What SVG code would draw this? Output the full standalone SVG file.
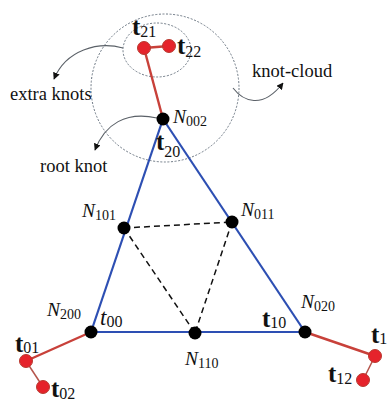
<svg xmlns="http://www.w3.org/2000/svg" width="389" height="402" viewBox="0 0 389 402">
<defs>
<style>
.lbl{font-family:"Liberation Serif","Times New Roman",serif;font-size:18.5px;fill:#111}
.tb{font-family:"Liberation Serif","Times New Roman",serif;font-weight:bold;font-size:25px;fill:#111}
.ti{font-family:"Liberation Serif","Times New Roman",serif;font-style:italic;font-size:23px;fill:#111}
.ni{font-family:"Liberation Serif","Times New Roman",serif;font-style:italic;font-size:19.5px;fill:#111}
.sub{font-family:"Liberation Serif","Times New Roman",serif;font-weight:normal;font-style:normal;font-size:16px}
.nsub{font-family:"Liberation Serif","Times New Roman",serif;font-style:normal;font-size:14px}
.blue{stroke:#2d4fb3;stroke-width:2.2;fill:none}
.red{stroke:#c8413a;stroke-width:2.4;fill:none}
.redthin{stroke:#b5554c;stroke-width:1.5;fill:none}
.dash{stroke:#111;stroke-width:1.5;stroke-dasharray:6,4;fill:none}
.cloud{stroke:#6d7884;stroke-width:1;stroke-dasharray:2,1.6;fill:none}
.arr{stroke:#5b6168;stroke-width:1.1;fill:none;marker-end:url(#ah)}
.bk{fill:#000}
.rd{fill:#e5232b;stroke:#b83a30;stroke-width:1}
</style>
<marker id="ah" viewBox="0 0 10 10" refX="9" refY="5" markerWidth="7" markerHeight="7" orient="auto" markerUnits="userSpaceOnUse">
<path d="M0,0 L10,5 L0,10 z" fill="#111"/>
</marker>
</defs>
<rect width="389" height="402" fill="#fff"/>

<g id="clouds">
<circle class="cloud" cx="165" cy="88" r="74"/>
<ellipse class="cloud" cx="157" cy="50" rx="34" ry="27"/>
</g>

<g id="connectors">
<line class="blue" x1="91" y1="332" x2="163" y2="119"/>
<line class="blue" x1="163" y1="119" x2="305" y2="332"/>
<line class="blue" x1="91" y1="332" x2="305" y2="332"/>
<line class="dash" x1="124" y1="228" x2="232" y2="222"/>
<line class="dash" x1="124" y1="228" x2="195" y2="333"/>
<line class="dash" x1="232" y1="222" x2="195" y2="333"/>
<line class="red" x1="163" y1="119" x2="144" y2="48"/>
<line class="red" x1="144" y1="48" x2="169" y2="46"/>
<line class="red" x1="91" y1="332" x2="26" y2="361"/>
<line class="redthin" x1="26" y1="361" x2="43" y2="387"/>
<line class="red" x1="305" y1="332" x2="375" y2="356"/>
<line class="redthin" x1="375" y1="356" x2="363" y2="380"/>
<path class="arr" d="M123,48 C98,41 66,50 54,79"/>
<path class="arr" d="M157,118 C126,111 105,124 95,150"/>
<path class="arr" d="M233,88 C243,101 262,110 283,83"/>
</g>

<g id="N002"><circle class="bk" cx="163" cy="119" r="6.5"/>
<text class="ni" x="173" y="123">N<tspan class="nsub" dy="3">002</tspan></text>
<text class="tb" x="156" y="150">t<tspan class="sub" dy="7">20</tspan></text></g>
<g id="N101"><circle class="bk" cx="124" cy="228" r="6.5"/>
<text class="ni" x="82" y="217">N<tspan class="nsub" dy="3">101</tspan></text></g>
<g id="N011"><circle class="bk" cx="232" cy="222" r="6.5"/>
<text class="ni" x="241" y="216">N<tspan class="nsub" dy="3">011</tspan></text></g>
<g id="N200"><circle class="bk" cx="91" cy="332" r="6.5"/>
<text class="ni" x="47" y="316">N<tspan class="nsub" dy="3">200</tspan></text>
<text class="ti" x="100" y="325">t<tspan class="sub" dy="2">00</tspan></text></g>
<g id="N110"><circle class="bk" cx="195" cy="333" r="6.5"/>
<text class="ni" x="185" y="365">N<tspan class="nsub" dy="3">110</tspan></text></g>
<g id="N020"><circle class="bk" cx="305" cy="332" r="6.5"/>
<text class="ni" x="301" y="308">N<tspan class="nsub" dy="3">020</tspan></text>
<text class="tb" x="262" y="327">t<tspan class="sub" dy="1">10</tspan></text></g>

<g id="t21"><circle class="rd" cx="144" cy="48" r="6.5"/>
<text class="tb" x="132" y="35">t<tspan class="sub" dy="2">21</tspan></text></g>
<g id="t22"><circle class="rd" cx="169" cy="46" r="6.5"/>
<text class="tb" x="177" y="54">t<tspan class="sub" dy="3">22</tspan></text></g>
<g id="t01"><circle class="rd" cx="26" cy="361" r="6.5"/>
<text class="tb" x="15" y="352">t<tspan class="sub" dy="1">01</tspan></text></g>
<g id="t02"><circle class="rd" cx="43" cy="387" r="6.5"/>
<text class="tb" x="51" y="397">t<tspan class="sub" dy="2">02</tspan></text></g>
<g id="t11"><circle class="rd" cx="375" cy="356" r="6.5"/>
<text class="tb" x="371" y="343">t<tspan class="sub" dy="1">1</tspan></text></g>
<g id="t12"><circle class="rd" cx="363" cy="380" r="6.5"/>
<text class="tb" x="328" y="382">t<tspan class="sub" dy="2">12</tspan></text></g>

<g id="labels">
<text class="lbl" x="10" y="100">extra knots</text>
<text class="lbl" x="40" y="172">root knot</text>
<text class="lbl" x="252" y="77">knot-cloud</text>
</g>
</svg>
